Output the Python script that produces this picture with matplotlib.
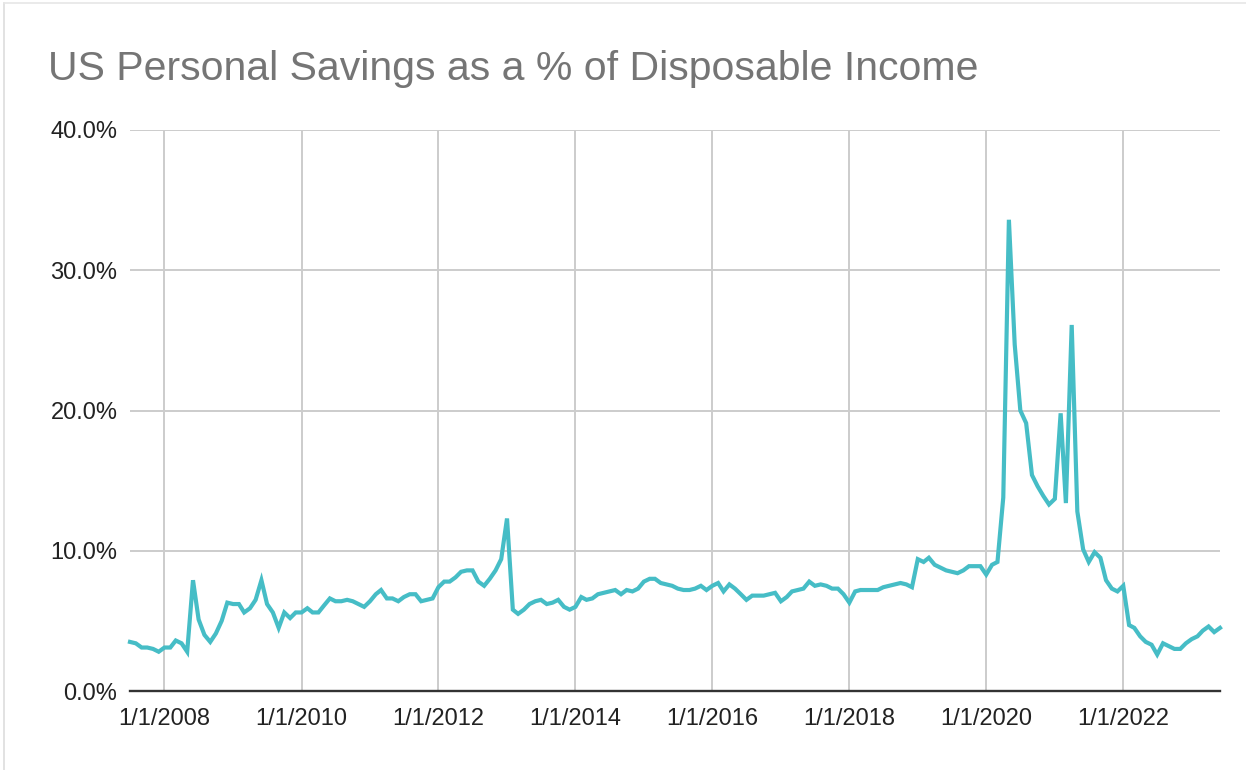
import matplotlib
matplotlib.use("Agg")
import matplotlib.pyplot as plt
from matplotlib.lines import Line2D
from matplotlib.ticker import FuncFormatter
import pandas as pd

# ---- data ----
start_month = "2007-07-01"
savings_rate = [
    # 2007 Jul-Dec
    3.5, 3.4, 3.1, 3.1, 3.0, 2.8,
    # 2008
    3.1, 3.1, 3.6, 3.4, 2.8, 7.9, 5.1, 4.0, 3.5, 4.1, 5.0, 6.3,
    # 2009
    6.2, 6.2, 5.6, 5.9, 6.5, 7.9, 6.2, 5.6, 4.5, 5.6, 5.2, 5.6,
    # 2010
    5.6, 5.9, 5.6, 5.6, 6.1, 6.6, 6.4, 6.4, 6.5, 6.4, 6.2, 6.0,
    # 2011
    6.4, 6.9, 7.2, 6.6, 6.6, 6.4, 6.7, 6.9, 6.9, 6.4, 6.5, 6.6,
    # 2012
    7.4, 7.8, 7.8, 8.1, 8.5, 8.6, 8.6, 7.8, 7.5, 8.0, 8.6, 9.4,
    # 2013
    12.3, 5.8, 5.5, 5.8, 6.2, 6.4, 6.5, 6.2, 6.3, 6.5, 6.0, 5.8,
    # 2014
    6.0, 6.7, 6.5, 6.6, 6.9, 7.0, 7.1, 7.2, 6.9, 7.2, 7.1, 7.3,
    # 2015
    7.8, 8.0, 8.0, 7.7, 7.6, 7.5, 7.3, 7.2, 7.2, 7.3, 7.5, 7.2,
    # 2016
    7.5, 7.7, 7.1, 7.6, 7.3, 6.9, 6.5, 6.8, 6.8, 6.8, 6.9, 7.0,
    # 2017
    6.4, 6.7, 7.1, 7.2, 7.3, 7.8, 7.5, 7.6, 7.5, 7.3, 7.3, 6.9,
    # 2018
    6.3, 7.1, 7.2, 7.2, 7.2, 7.2, 7.4, 7.5, 7.6, 7.7, 7.6, 7.4,
    # 2019
    9.4, 9.2, 9.5, 9.0, 8.8, 8.6, 8.5, 8.4, 8.6, 8.9, 8.9, 8.9,
    # 2020
    8.3, 9.0, 9.2, 13.8, 33.6, 24.7, 20.0, 19.1, 15.4, 14.6, 13.9, 13.3,
    # 2021
    13.7, 19.8, 13.4, 26.1, 12.8, 10.1, 9.2, 9.9, 9.5, 7.9, 7.3, 7.1,
    # 2022
    7.5, 4.7, 4.5, 3.9, 3.5, 3.3, 2.6, 3.4, 3.2, 3.0, 3.0, 3.4,
    # 2023 Jan-Jun
    3.7, 3.9, 4.3, 4.6, 4.2, 4.5,
]
tick_years = [2008, 2010, 2012, 2014, 2016, 2018, 2020, 2022]
tick_labels = [f"1/1/{y}" for y in tick_years]
y_ticks = [0, 10, 20, 30, 40]
title = "US Personal Savings as a % of Disposable Income"

dates = pd.date_range(start_month, periods=len(savings_rate), freq="MS")

plt.rcParams["font.family"] = ["Liberation Sans", "DejaVu Sans"]

W, H = 1246, 770
fig = plt.figure(figsize=(W / 100, H / 100), dpi=100)
fig.patch.set_facecolor("white")

left, right, top, bottom = 130, 1220, 130, 691
ax = fig.add_axes([left / W, 1 - bottom / H, (right - left) / W, (bottom - top) / H])

ax.plot(dates, savings_rate, color="#46bdc6", lw=3.0, solid_joinstyle="miter",
        zorder=3, clip_on=False)

ax.set_xlim(dates[0], dates[-1])
ax.set_ylim(0, 40)

ax.set_xticks([pd.Timestamp(f"{y}-01-01") for y in tick_years])
ax.set_xticklabels(tick_labels)
ax.set_yticks(y_ticks)
ax.yaxis.set_major_formatter(FuncFormatter(lambda v, p: f"{v:.1f}%"))

ax.grid(True, color="#cccccc", lw=1.4, zorder=1)
ax.set_axisbelow(True)
for s in ["top", "right", "left"]:
    ax.spines[s].set_visible(False)
ax.spines["bottom"].set_color("#333333")
ax.spines["bottom"].set_linewidth(1.7)
ax.spines["bottom"].set_zorder(4)

ax.tick_params(axis="both", length=0, labelsize=17, colors="#222222")
ax.tick_params(axis="x", pad=12)
ax.tick_params(axis="y", pad=9)

fig.text(48 / W, 1 - 69 / H, title, fontsize=29.5, color="#757575",
         ha="left", va="center")

# screenshot border
fig.add_artist(Line2D([4 / W, 4 / W], [0, 1 - 3 / H], color="#dddddd", lw=1.2))
fig.add_artist(Line2D([4 / W, 1], [1 - 3 / H, 1 - 3 / H], color="#e6e6e6", lw=1.2))

fig.savefig("out.png", dpi=100, facecolor="white")
